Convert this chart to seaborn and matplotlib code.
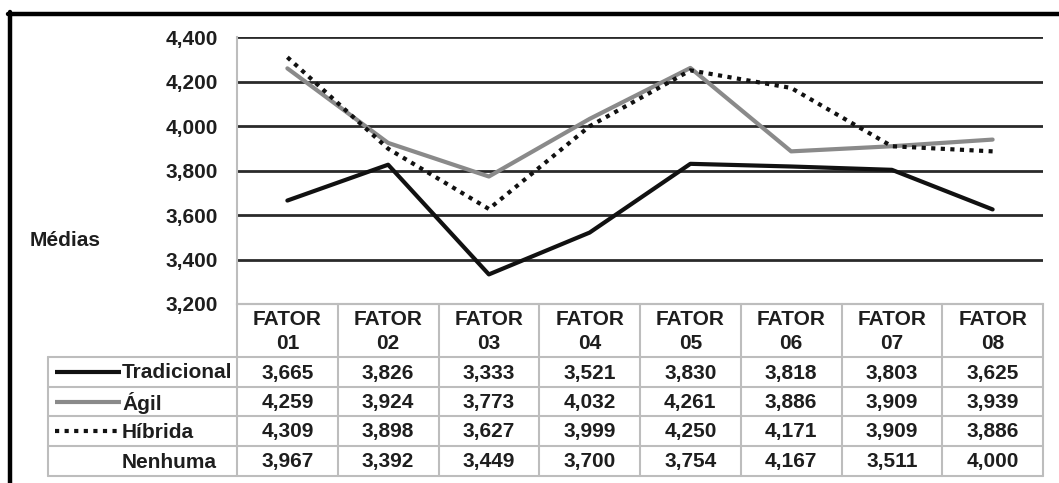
import numpy as np
import pandas as pd
import seaborn as sns
import matplotlib
matplotlib.use("Agg")
import matplotlib.pyplot as plt
from matplotlib.lines import Line2D

# ---- data ----
factors = ["FATOR\n01", "FATOR\n02", "FATOR\n03", "FATOR\n04",
           "FATOR\n05", "FATOR\n06", "FATOR\n07", "FATOR\n08"]
series_names = ["Tradicional", "Ágil", "Híbrida", "Nenhuma"]
tradicional = [3.665, 3.826, 3.333, 3.521, 3.830, 3.818, 3.803, 3.625]
agil = [4.259, 3.924, 3.773, 4.032, 4.261, 3.886, 3.909, 3.939]
hibrida = [4.309, 3.898, 3.627, 3.999, 4.250, 4.171, 3.909, 3.886]
nenhuma = [3.967, 3.392, 3.449, 3.700, 3.754, 4.167, 3.511, 4.000]
y_ticks = [3.2, 3.4, 3.6, 3.8, 4.0, 4.2, 4.4]
y_label = "Médias"

values = {"Tradicional": tradicional, "Ágil": agil, "Híbrida": hibrida, "Nenhuma": nenhuma}
drawn = ["Tradicional", "Ágil", "Híbrida"]  # Nenhuma has no line in the chart

def fmt(v):
    return f"{v:.3f}".replace(".", ",")

FS = 15
TXT = "#1e1e1e"

# ---- style ----
sns.set_theme(style="white")
plt.rcParams["font.family"] = ["Liberation Sans", "DejaVu Sans"]

W, H = 1059, 483
fig = plt.figure(figsize=(W / 100, H / 100), dpi=100)
fig.patch.set_facecolor("white")

def fx(px):
    return px / W

def fy(py):
    return 1 - py / H

plot_l, plot_r, plot_t, plot_b = 237, 1043, 37, 304
ax = fig.add_axes([fx(plot_l), fy(plot_b), fx(plot_r) - fx(plot_l), fy(plot_t) - fy(plot_b)])

rows = []
for name in drawn:
    for i, v in enumerate(values[name]):
        rows.append({"pos": i, "value": v, "series": name})
df = pd.DataFrame(rows)

colors = {"Tradicional": "#111111", "Ágil": "#8a8a8a", "Híbrida": "#111111"}
dashes = {"Tradicional": "", "Ágil": "", "Híbrida": (1, 1.3)}

# gridlines (above the baseline)
for t in y_ticks[1:]:
    ax.axhline(t, color="#2a2a2a", lw=2.0, zorder=1)

sns.lineplot(data=df, x="pos", y="value", hue="series", style="series",
             palette=colors, dashes=dashes, linewidth=3, legend=False,
             ax=ax, zorder=3)
for ln in ax.lines:
    ln.set_dash_capstyle("butt")

ax.set_xlim(-0.5, len(factors) - 0.5)
ax.set_ylim(y_ticks[0], y_ticks[-1])
ax.set_xticks([])
ax.set_yticks(y_ticks)
ax.set_yticklabels([fmt(t) for t in y_ticks], fontsize=FS, fontweight="bold", color=TXT)
ax.tick_params(axis="y", length=0, pad=14)
ax.set_xlabel("")
ax.set_ylabel("")
for s in ["top", "right"]:
    ax.spines[s].set_visible(False)
for s in ["left", "bottom"]:
    ax.spines[s].set_color("#bdbdbd")
    ax.spines[s].set_linewidth(1.5)
ax.set_facecolor("none")

fig.text(fx(30), fy(241), y_label, ha="left", va="center", fontsize=FS,
         fontweight="bold", color=TXT)

# ---- data table ----
tax = fig.add_axes([0, 0, 1, 1])
tax.set_xlim(0, W)
tax.set_ylim(H, 0)
tax.axis("off")

ncol = len(factors)
cw = (plot_r - plot_l) / ncol
col_edges = [plot_l + i * cw for i in range(ncol + 1)]
row_edges = [304, 357, 387, 416, 446, 476]
lab_left = 48
gc = "#bdbdbd"
glw = 1.5

tax.plot([plot_l, plot_r], [row_edges[0], row_edges[0]], color=gc, lw=glw)
for y in row_edges[1:]:
    tax.plot([lab_left, plot_r], [y, y], color=gc, lw=glw)
for x in col_edges:
    tax.plot([x, x], [row_edges[0], row_edges[-1]], color=gc, lw=glw)
tax.plot([lab_left, lab_left], [row_edges[1], row_edges[-1]], color=gc, lw=glw)

# headers
for i, f in enumerate(factors):
    tax.text(col_edges[i] + cw / 2, (row_edges[0] + row_edges[1]) / 2 + 1, f,
             ha="center", va="center", fontsize=FS, fontweight="bold",
             color=TXT, linespacing=1.3)

# rows
key_style = {"Tradicional": dict(color="#111111", ls="-"),
             "Ágil": dict(color="#8a8a8a", ls="-"),
             "Híbrida": dict(color="#111111", ls=(0, (1, 1.3)))}
for r, name in enumerate(series_names):
    yc = (row_edges[r + 1] + row_edges[r + 2]) / 2
    if name in key_style:
        tax.plot([55, 121], [yc, yc], lw=3, solid_capstyle="butt",
                 dash_capstyle="butt", **key_style[name])
    tax.text(122, yc + 1, name, ha="left", va="center", fontsize=FS,
             fontweight="bold", color=TXT)
    for i, v in enumerate(values[name]):
        tax.text(col_edges[i] + cw / 2, yc + 1, fmt(v), ha="center", va="center",
                 fontsize=FS, fontweight="bold", color=TXT)

# outer frame (left and top edges visible in the reference)
fig.add_artist(Line2D([fx(9.5), fx(9.5)], [fy(12), 0], transform=fig.transFigure,
                      color="black", lw=3.2))
fig.add_artist(Line2D([fx(8), 1], [fy(13.5), fy(13.5)], transform=fig.transFigure,
                      color="black", lw=3.2))

fig.savefig("out.png", dpi=100, facecolor="white")
